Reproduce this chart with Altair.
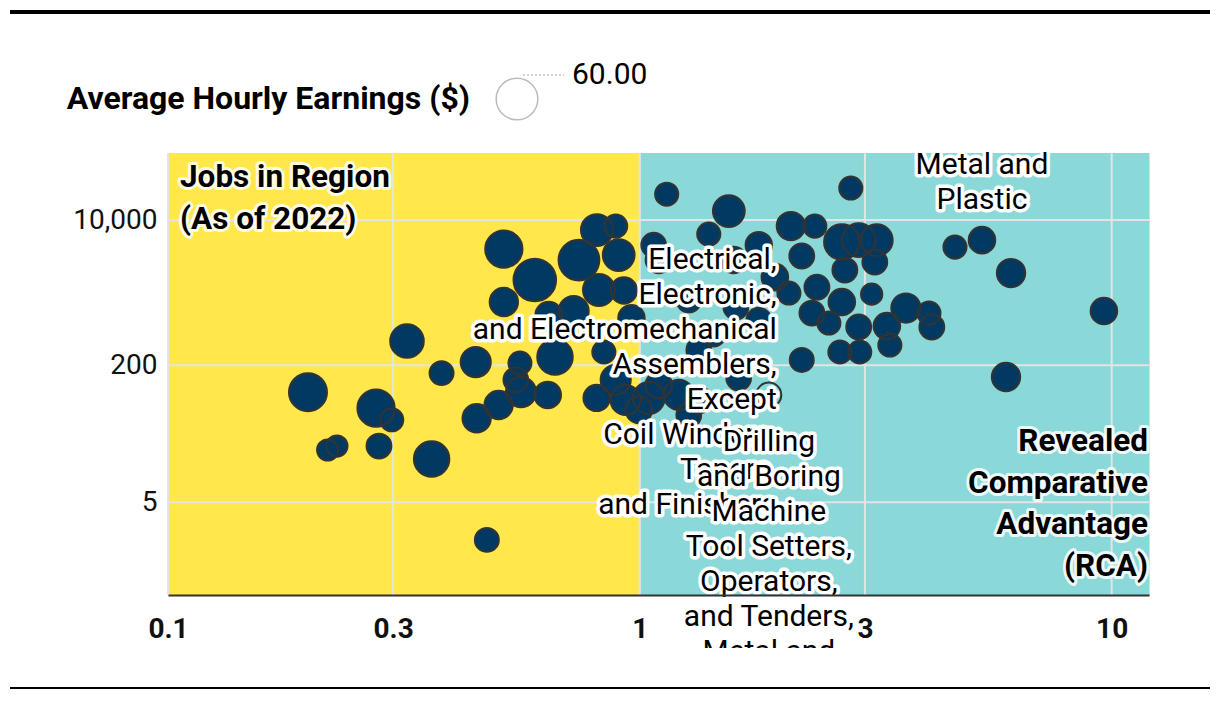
import altair as alt
import pandas as pd

# ---------------- data ----------------
rca = [0.198, 0.218, 0.228, 0.276, 0.298, 0.280, 0.321, 0.362, 0.380, 0.474,
       0.449, 0.451, 0.502, 0.560, 0.638, 0.557, 0.661, 0.515, 0.599, 0.515,
       0.641, 0.743, 0.811, 0.889, 0.724, 0.839, 0.889, 0.933, 0.819, 0.902,
       0.546, 0.810, 0.960, 0.925,
       1.097, 1.140, 1.544, 1.400, 2.090, 2.349, 2.800, 2.204, 2.680, 2.910,
       3.178, 3.148, 2.720, 4.655, 5.311, 6.120, 9.630, 2.373, 2.070, 2.316,
       2.680, 3.100, 2.516, 2.910, 3.664, 4.100, 4.158, 3.339, 3.388, 2.655,
       2.925, 2.204, 5.972, 1.877, 1.598, 1.334, 1.933, 1.045, 1.210, 1.334,
       1.097, 1.580, 1.270, 1.787, 1.435, 1.620, 0.995, 1.270, 1.070, 1.787]
jobs = [97, 20.4, 22.7, 63, 46, 22.7, 385, 16, 162, 1.81,
        218, 48, 68.5, 97, 90, 212, 250, 4580, 1990, 1100,
        774, 3410, 7640, 8510, 860, 286, 135, 78.5, 1520, 3900,
        135, 83, 714, 1500,
        3410, 20100, 12740, 6860, 8510, 8510, 23700, 3800, 5530, 5830,
        5830, 3230, 2600, 4830, 5830, 2400, 863, 1640, 1400, 817,
        1100, 1360, 624, 561, 935, 817, 561, 575, 345, 286,
        286, 231, 146, 90, 960, 302, 2150, 83, 90, 78.5,
        117, 3410, 1160, 676, 452, 142, 60, 52, 5100, 5100]
earnings = [50.0, 15.6, 15.6, 48.0, 18.4, 21.3, 39.0, 43.5, 19.8, 19.8,
            31.4, 27.8, 27.8, 31.4, 24.4, 18.4, 43.5, 48.0, 62.6, 27.8,
            24.4, 57.5, 35.2, 18.4, 31.4, 18.4, 31.4, 31.4, 35.0, 35.0,
            21.0, 24.0, 24.0, 24.0,
            24.0, 18.4, 35.0, 18.4, 27.8, 18.4, 18.4, 21.3, 43.5, 39.0,
            35.0, 21.3, 21.3, 18.4, 24.4, 27.8, 24.4, 21.3, 18.4, 21.3,
            24.4, 15.6, 18.4, 21.3, 29.6, 18.4, 21.3, 24.4, 18.4, 18.4,
            18.4, 19.8, 27.8, 21.3, 21.3, 21.3, 24.4, 35.0, 31.4, 24.4,
            24.4, 24.0, 21.0, 21.0, 18.0, 21.0, 24.0, 21.0, 21.0, 24.0]

# highlighted occupations: index in the lists above -> key
highlight_index = {41: "electrical", 48: "metal", 67: "drilling"}
highlight_labels = {
    "electrical": ["Electrical,", "Electronic,", "and Electromechanical", "Assemblers,",
                   "Except", "Coil Winders,", "Tapers,", "and Finishers"],
    "drilling": ["Drilling", "and Boring", "Machine", "Tool Setters,", "Operators,",
                 "and Tenders,", "Metal and", "Plastic"],
    "metal": ["Metal and", "Plastic"],
}
hollow_keys = ["drilling"]

zone_start = [0.1, 1]
zone_end = [1, 12]
zone_name = ["below", "advantage"]

x_ticks = [0.1, 0.3, 1, 3, 10]
y_ticks = [5, 200, 10000]
legend_values = [60]

LEGEND_TITLE = "Average Hourly Earnings ($)"
JOBS_NOTE = "Jobs in Region\n(As of 2022)"
RCA_NOTE = "Revealed\nComparative\nAdvantage\n(RCA)"

# ---------------- styling ----------------
W, H = 981, 442
FONT = "Roboto"
NAVY = "#003A63"
YELLOW = "#FFE74C"
TEAL = "#8AD8D8"
GRID = "#E4E4E4"

keys = [highlight_index.get(i, "") for i in range(len(rca))]
labels = ["\n".join(highlight_labels[k]) if k else "" for k in keys]
df = pd.DataFrame({"rca": rca, "jobs": jobs, "earnings": earnings,
                   "key": keys, "label": labels})
zones = pd.DataFrame({"x0": zone_start, "x1": zone_end, "zone": zone_name})
xt = pd.DataFrame({"v": x_ticks})
yt = pd.DataFrame({"v": y_ticks})
leg = pd.DataFrame({"v": legend_values})
one = pd.DataFrame({"z": [0]})

XS = alt.Scale(type="log", domain=[0.1, 12])
YS = alt.Scale(type="log", domain=[0.41, 61000])
SS = alt.Scale(domain=[0, 60], range=[0, 1735])

AX = alt.Axis(values=x_ticks, format="~g", grid=False, ticks=False, tickSize=0,
              labelFontWeight="bold", labelFontSize=28, labelColor="#111",
              labelFont=FONT, labelPadding=20, labelFlush=False,
              domainColor="#333", domainWidth=2, zindex=1)
AY = alt.Axis(values=y_ticks, format=",d", grid=False, ticks=False, tickSize=0,
              domain=False, labelFontSize=28, labelColor="#111", labelFont=FONT,
              labelPadding=11, labelFlush=False, zindex=1)


def X(field):
    return alt.X(field, scale=XS, axis=AX, title=None)


def Y(field):
    return alt.Y(field, scale=YS, axis=AY, title=None)


bg = alt.Chart(zones).mark_rect(opacity=1).encode(
    x=X("x0:Q"), x2="x1:Q",
    y=alt.value(0), y2=alt.value(H),
    color=alt.Color("zone:N", scale=alt.Scale(domain=zone_name, range=[YELLOW, TEAL]), legend=None),
)

gx = alt.Chart(xt).mark_rule(color=GRID, strokeWidth=2).encode(
    x=X("v:Q"), y=alt.value(0), y2=alt.value(H))
gy = alt.Chart(yt).mark_rule(color=GRID, strokeWidth=2).encode(
    y=Y("v:Q"), x=alt.value(0), x2=alt.value(W))

points = alt.Chart(df).transform_filter(
    ~alt.FieldOneOfPredicate(field="key", oneOf=hollow_keys)
).mark_circle(color=NAVY, opacity=1).encode(
    x=X("rca:Q"), y=Y("jobs:Q"),
    size=alt.Size("earnings:Q", scale=SS, legend=None),
)

outlines = alt.Chart(df).transform_filter(alt.datum.key != "").mark_point(
    shape="circle", filled=False, stroke="#333", strokeWidth=2, opacity=1
).encode(
    x=X("rca:Q"), y=Y("jobs:Q"),
    size=alt.Size("earnings:Q", scale=SS, legend=None),
)


def label_layers(key, align, baseline, dx, dy):
    base = alt.Chart(df).transform_filter(alt.datum.key == key).encode(
        x=X("rca:Q"), y=Y("jobs:Q"), text="label:N",
    )
    common = dict(align=align, baseline=baseline, dx=dx, dy=dy, font=FONT, fontSize=30,
                  lineBreak="\n", lineHeight=35)
    halo = base.mark_text(color="white", stroke="white", strokeWidth=7,
                          strokeJoin="round", **common)
    txt = base.mark_text(color="black", **common)
    return [halo, txt]


lab_layers = (label_layers("electrical", "right", "top", -25, -11)
              + label_layers("drilling", "center", "top", 0, 32)
              + label_layers("metal", "center", "bottom", 0, -60))


def note(text, x, y, align):
    common = dict(text=text, align=align, baseline="top", font=FONT, fontSize=31.5,
                  fontWeight="bold", lineBreak="\n", lineHeight=41.5)
    b = alt.Chart(one).encode(x=alt.value(x), y=alt.value(y))
    return [b.mark_text(color="white", stroke="white", strokeWidth=6, strokeOpacity=0.85,
                        strokeJoin="round", **common),
            b.mark_text(color="black", **common)]


notes = note(JOBS_NOTE, 12, 9, "left") + note(RCA_NOTE, W - 1, 273, "right")

mask = alt.Chart(one).mark_rect(color="white", opacity=1).encode(
    x=alt.value(-168), x2=alt.value(W + 70), y=alt.value(495), y2=alt.value(550))

leg_title = alt.Chart(one).mark_text(
    text=LEGEND_TITLE, align="right", baseline="middle", font=FONT, fontSize=32,
    fontWeight="bold", color="black").encode(x=alt.value(302), y=alt.value(-54))
leg_circle = alt.Chart(leg).mark_point(
    shape="circle", filled=False, stroke="#BBBBBB", strokeWidth=1.5, opacity=1).encode(
    x=alt.value(349), y=alt.value(-54), size=alt.Size("v:Q", scale=SS, legend=None))
leg_line = alt.Chart(one).mark_rule(color="#AAAAAA", strokeWidth=1, strokeDash=[2, 2]).encode(
    x=alt.value(355), x2=alt.value(396), y=alt.value(-78))
leg_label = alt.Chart(leg).mark_text(
    align="left", baseline="middle", font=FONT, fontSize=30, color="black").encode(
    x=alt.value(404), y=alt.value(-78.5), text=alt.Text("v:Q", format=".2f"))

top_border = alt.Chart(one).mark_rule(color="black", strokeWidth=4).encode(
    x=alt.value(-158), x2=alt.value(1042), y=alt.value(-141))
bottom_border = alt.Chart(one).mark_rule(color="black", strokeWidth=2).encode(
    x=alt.value(-158), x2=alt.value(1042), y=alt.value(535))

chart = alt.layer(
    bg, gx, gy, points, outlines, *lab_layers, *notes, mask,
    leg_title, leg_circle, leg_line, leg_label, top_border, bottom_border,
).properties(
    width=W, height=H,
    autosize=alt.AutoSizeParams(type="none"),
    padding={"left": 160, "top": 145, "right": 63, "bottom": 97},
).configure_view(stroke=None).configure(font=FONT)

chart.save("out.html", embed_options={"renderer": "svg", "actions": False})
